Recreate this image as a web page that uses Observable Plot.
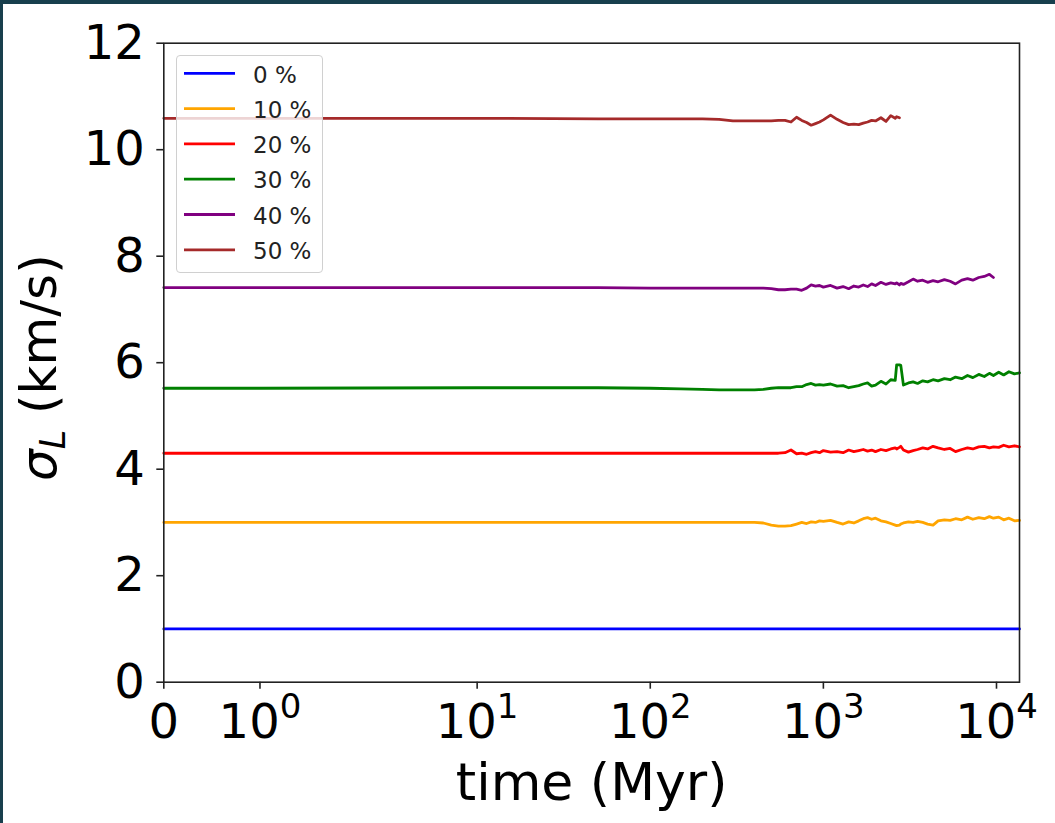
<!DOCTYPE html>
<html><head><meta charset="utf-8">
<script src="https://cdn.jsdelivr.net/npm/d3@7"></script>
<script src="https://cdn.jsdelivr.net/npm/@observablehq/plot@0.6"></script>
<style>
body{margin:0;background:#183f4d;width:1055px;height:823px;overflow:hidden;font-family:"DejaVu Sans",sans-serif}
#fig{position:absolute;left:3px;top:4px;width:1052px;height:819px;background:#fff}
#legend{position:absolute;left:173px;top:51px;width:147px;height:218px;box-sizing:border-box;border:1.3px solid #d0d0d0;border-radius:4px;background:rgba(255,255,255,0.8)}
</style></head><body><div id="fig"></div>
<script>
// ---- data ----
const labels = ["0 %", "10 %", "20 %", "30 %", "40 %", "50 %"];
const colors = ["#0000ff", "#ffa500", "#ff0000", "#008000", "#800080", "#a52a2a"];

const xTickValues = [0, 1, 10, 100, 1000, 10000];
const xTickLabels = ["0", "10^0", "10^1", "10^2", "10^3", "10^4"];
const yTicks = [0, 2, 4, 6, 8, 10, 12];
const xMax = 13580;

const time0 = [0, 13580];
const sigma0 = [1.0, 1.0];

const timeMyr = [0, 1, 10, 50, 100, 150, 200, 250, 300, 350,
  400, 450, 500, 550, 600, 650, 700, 750, 800, 850,
  900, 950, 1000, 1100, 1200, 1300, 1400, 1500, 1600, 1700,
  1800, 1900, 2000, 2150, 2300, 2450, 2600, 2650, 2750, 2800,
  2900, 3100, 3300, 3500, 3750, 4000, 4300, 4600, 5000, 5400,
  5800, 6300, 6800, 7300, 7900, 8500, 9100, 9600, 10300, 11000,
  11800, 12700, 13580];

const sigma10 = [3.00, 3.00, 3.00, 3.00, 3.00, 3.00, 3.00, 3.00, 3.00, 3.00,
  3.00, 2.99, 2.95, 2.93, 2.93, 2.94, 2.97, 3.00, 2.98, 3.01,
  3.00, 3.03, 3.02, 3.04, 3.00, 2.97, 3.01, 2.99, 3.03, 3.07,
  3.09, 3.06, 3.08, 3.03, 3.01, 2.98, 2.95, 2.94, 2.95, 2.97,
  2.99, 3.01, 3.00, 3.02, 3.00, 2.97, 2.95, 3.03, 3.05, 3.04,
  3.07, 3.05, 3.10, 3.06, 3.09, 3.07, 3.11, 3.08, 3.10, 3.05,
  3.08, 3.03, 3.04];

const sigma20 = [4.30, 4.30, 4.30, 4.30, 4.30, 4.30, 4.30, 4.30, 4.30, 4.30,
  4.30, 4.30, 4.30, 4.30, 4.31, 4.36, 4.29, 4.30, 4.28, 4.31,
  4.33, 4.31, 4.35, 4.32, 4.33, 4.31, 4.36, 4.33, 4.35, 4.37,
  4.34, 4.36, 4.33, 4.37, 4.35, 4.38, 4.40, 4.38, 4.41, 4.43,
  4.36, 4.32, 4.35, 4.37, 4.40, 4.38, 4.43, 4.40, 4.37, 4.39,
  4.33, 4.37, 4.40, 4.38, 4.42, 4.43, 4.40, 4.42, 4.41, 4.45,
  4.42, 4.44, 4.42];

const sigma30 = [5.52, 5.52, 5.53, 5.53, 5.52, 5.51, 5.50, 5.49, 5.49, 5.49,
  5.49, 5.50, 5.52, 5.53, 5.53, 5.53, 5.55, 5.55, 5.59, 5.61,
  5.58, 5.59, 5.58, 5.60, 5.56, 5.57, 5.53, 5.55, 5.57, 5.60,
  5.62, 5.56, 5.58, 5.65, 5.60, 5.68, 5.67, 5.96, 5.96, 5.95,
  5.58, 5.62, 5.64, 5.61, 5.66, 5.64, 5.68, 5.66, 5.70, 5.68,
  5.73, 5.70, 5.76, 5.72, 5.78, 5.74, 5.80, 5.76, 5.82, 5.77,
  5.83, 5.79, 5.81];

const sigma40 = [7.41, 7.41, 7.41, 7.41, 7.40, 7.40, 7.40, 7.40, 7.40, 7.40,
  7.40, 7.40, 7.39, 7.37, 7.37, 7.38, 7.38, 7.36, 7.40, 7.46,
  7.44, 7.45, 7.42, 7.45, 7.40, 7.43, 7.39, 7.44, 7.42, 7.46,
  7.43, 7.48, 7.45, 7.51, 7.47, 7.50, 7.48, 7.50, 7.46, 7.49,
  7.47, 7.52, 7.57, 7.53, 7.55, 7.51, 7.54, 7.52, 7.56, 7.53,
  7.48, 7.55, 7.58, 7.55, 7.60, 7.62, 7.66, 7.60, null, null,
  null, null, null];

const sigma50 = [10.59, 10.59, 10.59, 10.58, 10.58, 10.58, 10.58, 10.57, 10.54, 10.54,
  10.54, 10.54, 10.54, 10.55, 10.55, 10.52, 10.61, 10.55, 10.51, 10.46,
  10.49, 10.52, 10.56, 10.65, 10.57, 10.51, 10.47, 10.48, 10.47, 10.50,
  10.52, 10.55, 10.54, 10.60, 10.53, 10.64, 10.59, 10.62, 10.60, null,
  null, null, null, null, null, null, null, null, null, null,
  null, null, null, null, null, null, null, null, null, null,
  null, null, null];

// ---- matplotlib-style symlog (linthresh 2, linscale 1) ----
const LT = 2, LS = 1 / (1 - 1 / 10);
function symlog(x) {
  const a = Math.abs(x);
  const s = a <= LT ? (a / LT) * LS : LS + Math.log10(a / LT);
  return Math.sign(x) * s;
}

const seriesData = [
  {times: time0, vals: sigma0},
  {times: timeMyr, vals: sigma10},
  {times: timeMyr, vals: sigma20},
  {times: timeMyr, vals: sigma30},
  {times: timeMyr, vals: sigma40},
  {times: timeMyr, vals: sigma50}
].map((s, i) => s.times.map((t, j) => ({t: symlog(t), v: s.vals[j], i})));

const tickPos = xTickValues.map(symlog);
const tickLab = new Map(tickPos.map((p, i) => [p, xTickLabels[i]]));

const YLABEL = "σL (km/s)";
const plot = Plot.plot({
  width: 1052, height: 819,
  marginLeft: 160.3, marginRight: 36, marginTop: 38.7, marginBottom: 141.3,
  style: {fontFamily: "DejaVu Sans", fontSize: "48px", background: "transparent", color: "#000", overflow: "visible"},
  x: {type: "linear", domain: [0, symlog(xMax)], axis: null},
  y: {type: "linear", domain: [0, 12], axis: null},
  marks: [
    ...seriesData.map((d, i) => Plot.line(d, {x: "t", y: "v", stroke: colors[i], strokeWidth: 2.8, strokeLinejoin: "round"})),
    Plot.frame({stroke: "#222", strokeWidth: 1.6}),
    Plot.axisY(yTicks, {tickFormat: d => String(d), tickSize: 7, tickPadding: 12, fontSize: 48, stroke: "#222", strokeWidth: 1.6, label: null}),
    Plot.axisX(tickPos, {tickFormat: d => tickLab.get(d), tickSize: 7, tickPadding: 15, fontSize: 48, stroke: "#222", strokeWidth: 1.6, label: null}),
    Plot.text(["time (Myr)"], {text: d => d, frameAnchor: "bottom", textAnchor: "middle", dy: 118, fontSize: 52, fill: "#000"}),
    Plot.text([YLABEL], {text: d => d, frameAnchor: "left", textAnchor: "middle", rotate: -90, dx: -124, dy: 5, fontSize: 50, fill: "#000"})
  ]
});
document.getElementById("fig").appendChild(plot);

// superscripts on the x tick labels
const NS = "http://www.w3.org/2000/svg";
plot.querySelectorAll("text").forEach(t => {
  const s = t.textContent;
  if (/^10\^\d$/.test(s)) {
    const [base, exp] = s.split("^");
    t.textContent = "";
    const a = document.createElementNS(NS, "tspan"); a.textContent = base; t.appendChild(a);
    const b = document.createElementNS(NS, "tspan"); b.textContent = exp;
    b.setAttribute("font-size", "34px"); b.setAttribute("dy", "-20"); t.appendChild(b);
  } else if (s === YLABEL) {
    // y label with italic sigma and subscript L
    t.textContent = "";
    const a = document.createElementNS(NS, "tspan"); a.textContent = "σ"; a.setAttribute("font-style", "italic"); t.appendChild(a);
    const b = document.createElementNS(NS, "tspan"); b.textContent = "L"; b.setAttribute("font-style", "italic");
    b.setAttribute("font-size", "35px"); b.setAttribute("dy", "9"); t.appendChild(b);
    const c = document.createElementNS(NS, "tspan"); c.textContent = " (km/s)"; c.setAttribute("dy", "-9"); t.appendChild(c);
  }
});

// legend (matplotlib style, upper left inside the axes)
const leg = d3.select("#fig").append("div").attr("id", "legend");
const lsvg = leg.append("svg").attr("width", 145).attr("height", 216).style("display", "block");
labels.forEach((lab, i) => {
  const y = 17.3 + i * 35.3;
  lsvg.append("line").attr("x1", 7).attr("x2", 58).attr("y1", y).attr("y2", y)
    .attr("stroke", colors[i]).attr("stroke-width", 2.8);
  lsvg.append("text").attr("x", 76).attr("y", y).attr("dy", "0.4em")
    .attr("font-family", "DejaVu Sans").attr("font-size", 23).attr("fill", "#222").text(lab);
});
</script>
</body></html>
